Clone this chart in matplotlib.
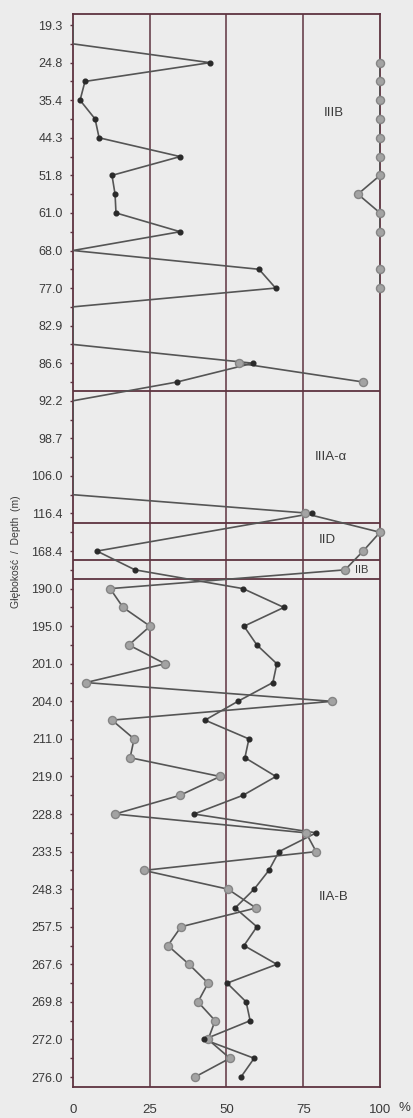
import numpy as np
import matplotlib.pyplot as plt

plt.rcParams['font.family'] = ['Liberation Sans', 'DejaVu Sans']

# depth labels (every second sample position)
depth_labels = ['19.3', '24.8', '35.4', '44.3', '51.8', '61.0', '68.0', '77.0', '82.9',
                '86.6', '92.2', '98.7', '106.0', '116.4', '168.4', '190.0', '195.0',
                '201.0', '204.0', '211.0', '219.0', '228.8', '233.5', '248.3', '257.5',
                '267.6', '269.8', '272.0', '276.0']

# dark series (small black dots), one value per sample position, None = no data
dark_vals = [0, 0, 44.6, 3.9, 2.3, 7.2, 8.5, 34.9, 12.7, 13.7,
             14.0, 34.9, 0, 60.6, 66.0, 0, 0, 0, 58.6, 33.9,
             0, 0, 0, 0, 0, 0, 77.9, None, 7.8, 20.2,
             55.4, 68.7, 55.7, 59.9, 66.4, 65.1, 53.7, 43.0, 57.3, 56.0,
             66.1, 55.4, 39.4, 79.2, 67.1, 63.8, 59.0, 52.8, 59.9, 55.7,
             66.4, 50.2, 56.4, 57.7, 42.7, 59.0, 54.7]

# grey series (larger grey circles)
grey_vals = [None, None, 100, 100, 100, 100, 100, 100, 100, 92.8,
             100, 100, None, 100, 100, None, None, None, 54.0, 94.5,
             None, None, None, None, None, None, 75.5, 100, 94.5, 88.6,
             12.1, 16.3, 25.1, 18.2, 30.0, 4.2, 84.4, 12.7, 19.9, 18.6,
             47.9, 34.9, 13.7, 75.9, 79.2, 23.1, 50.5, 59.6, 35.2, 30.9,
             37.8, 44.0, 40.7, 46.3, 44.0, 51.1, 39.7]

# zone boundaries (between sample positions) and zone names
zone_bounds = [19.5, 26.5, 28.5, 29.5]
zone_names = ['IIIB', 'IIIA-\u03b1', 'IID', 'IIB', 'IIA-B']
zone_pos = [(85, 4.7), (84, 23.0), (83, 27.4), (94, 29.0), (85, 46.4)]

frame_c = '#5e3340'
line_c = '#555555'
bg = '#ececec'

fig = plt.figure(figsize=(4.14, 11.18), dpi=100, facecolor=bg)
ax = fig.add_axes([73/414, 1-1087/1118, 307/414, 1073/1118], facecolor=bg)

k = np.arange(len(dark_vals))
d = np.array([np.nan if v is None else v for v in dark_vals])
g = np.array([np.nan if v is None else v for v in grey_vals])

# dark series is drawn through missing samples, grey one breaks
ok = ~np.isnan(d)
ax.plot(d[ok], k[ok], color=line_c, lw=1.2, zorder=3)
nz = ok & (np.nan_to_num(d) > 0)
ax.plot(d[nz], k[nz], 'o', ms=3.4, color='#2a2a2a', zorder=5, clip_on=False)
ax.plot(g, k, color=line_c, lw=1.2, zorder=3)
ax.plot(g, k, 'o', ms=5.8, mfc='#a3a3a3', mec='#858585', mew=1.0, zorder=4, clip_on=False)

for x in [25, 50, 75]:
    ax.axvline(x, color=frame_c, lw=1.1, zorder=2)
for b in zone_bounds:
    ax.axhline(b, color=frame_c, lw=1.3, zorder=2)

for name, (x, y) in zip(zone_names, zone_pos):
    ax.text(x, y, name, ha='center', va='center', fontsize=9.5 if name != 'IIB' else 8,
            color='#3a3a3a', zorder=6)

ax.set_xlim(0, 100)
ax.set_ylim(56.53, -0.59)
ax.set_xticks([0, 25, 50, 75, 100])
ax.set_xticklabels(['0', '25', '50', '75', '100'])
ax.set_yticks(np.arange(0, len(dark_vals), 2))
ax.set_yticklabels(depth_labels)
ax.set_yticks(np.arange(1, len(dark_vals), 2), minor=True)
ax.tick_params(axis='y', which='major', length=2.5, width=1, color=frame_c, pad=5,
               labelsize=9, labelcolor='#3a3a3a')
ax.tick_params(axis='y', which='minor', length=2, width=1, color=frame_c)
ax.tick_params(axis='x', length=0, pad=12, labelsize=9.5, labelcolor='#3a3a3a')
for s in ax.spines.values():
    s.set_color(frame_c)
    s.set_linewidth(1.3)

fig.text(399/414, 1-1108/1118, '%', ha='left', va='center', fontsize=9.5, color='#3a3a3a')
fig.text(16/414, 1-552/1118, 'Głębokość  /  Depth  (m)', rotation=90, ha='center',
         va='center', fontsize=7.5, color='#3a3a3a')

fig.savefig('out.png', dpi=100, facecolor=bg)
